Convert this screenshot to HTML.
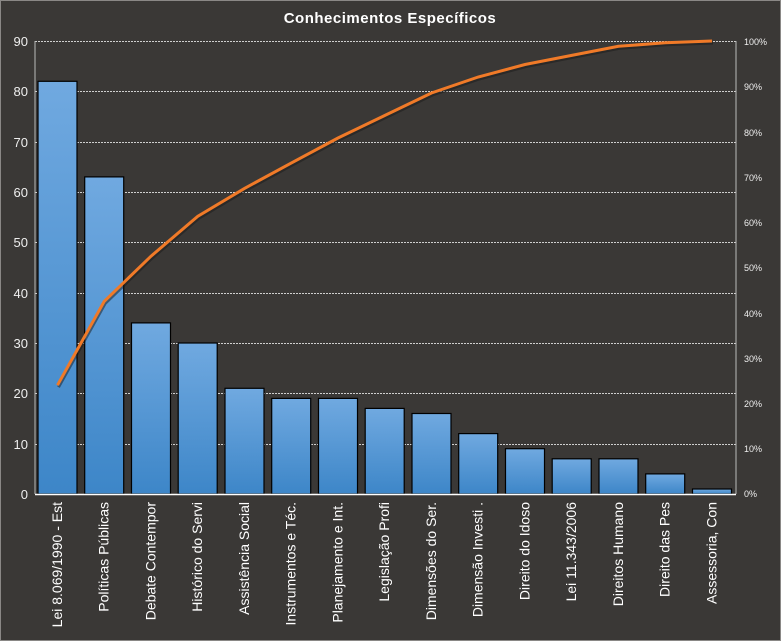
<!DOCTYPE html>
<html><head><meta charset="utf-8"><style>html,body{margin:0;padding:0;background:#3a3836}svg{display:block}</style></head>
<body>
<svg width="781" height="641" viewBox="0 0 781 641" xmlns="http://www.w3.org/2000/svg" font-family="Liberation Sans, DejaVu Sans, sans-serif">
<defs>
<linearGradient id="g" x1="0" y1="0" x2="0" y2="1">
<stop offset="0" stop-color="#70a9e0"/><stop offset="1" stop-color="#3d86c8"/>
</linearGradient>
</defs>
<rect x="0" y="0" width="781" height="641" fill="#3a3836"/>
<rect x="0.5" y="0.5" width="780" height="640" fill="none" stroke="#8a8886"/>
<text x="390" y="23" text-anchor="middle" fill="#fff" font-size="15" font-weight="bold" letter-spacing="0.5">Conhecimentos Específicos</text>
<g stroke="#cfcfcf" stroke-dasharray="2,1" stroke-width="1">
<line x1="35" x2="736" y1="41.5" y2="41.5"/><line x1="35" x2="736" y1="91.5" y2="91.5"/>
<line x1="35" x2="736" y1="142.5" y2="142.5"/><line x1="35" x2="736" y1="192.5" y2="192.5"/>
<line x1="35" x2="736" y1="242.5" y2="242.5"/><line x1="35" x2="736" y1="293.5" y2="293.5"/>
<line x1="35" x2="736" y1="343.5" y2="343.5"/><line x1="35" x2="736" y1="393.5" y2="393.5"/>
<line x1="35" x2="736" y1="444.5" y2="444.5"/>
</g>
<line x1="35" x2="35" y1="41" y2="494" stroke="#bbb"/>
<line x1="736" x2="736" y1="41" y2="494" stroke="#bbb"/>
<g fill="#eee" font-size="13" text-anchor="end">
<text x="28" y="46">90</text><text x="28" y="96">80</text><text x="28" y="147">70</text>
<text x="28" y="197">60</text><text x="28" y="247">50</text><text x="28" y="298">40</text>
<text x="28" y="348">30</text><text x="28" y="398">20</text><text x="28" y="449">10</text>
<text x="28" y="499">0</text>
</g>
<g fill="#eee" font-size="9">
<text x="744" y="45">100%</text><text x="744" y="90">90%</text><text x="744" y="136">80%</text>
<text x="744" y="181">70%</text><text x="744" y="226">60%</text><text x="744" y="271">50%</text>
<text x="744" y="317">40%</text><text x="744" y="362">30%</text><text x="744" y="407">20%</text>
<text x="744" y="452">10%</text><text x="744" y="497">0%</text>
</g>
<g fill="url(#g)" stroke="#000" stroke-width="1.2">
<rect x="38" y="81.3" width="39" height="412.7"/>
<rect x="84.7" y="176.9" width="39" height="317.1"/>
<rect x="131.5" y="322.9" width="39" height="171.1"/>
<rect x="178.2" y="343" width="39" height="151"/>
<rect x="225" y="388.3" width="39" height="105.7"/>
<rect x="271.7" y="398.4" width="39" height="95.6"/>
<rect x="318.5" y="398.4" width="39" height="95.6"/>
<rect x="365.2" y="408.4" width="39" height="85.6"/>
<rect x="412" y="413.5" width="39" height="80.5"/>
<rect x="458.7" y="433.6" width="39" height="60.4"/>
<rect x="505.5" y="448.7" width="39" height="45.3"/>
<rect x="552.2" y="458.8" width="39" height="35.2"/>
<rect x="599" y="458.8" width="39" height="35.2"/>
<rect x="645.7" y="473.9" width="39" height="20.1"/>
<rect x="692.5" y="489" width="39" height="5"/>
</g>
<line x1="35" x2="736" y1="494.5" y2="494.5" stroke="#fff" stroke-width="1.5"/>
<polyline fill="none" stroke="#1a1a1a" stroke-opacity="0.5" stroke-width="3" transform="translate(1,2)" points="57.5,385.2 104.2,301.4 151,256.2 197.7,216.3 244.5,188.4 291.2,163.1 338,138 384.7,115.5 431.5,93 478.2,77 525,64.5 571.7,55.4 618.5,46.3 665.2,42.8 712,41"/>
<polyline fill="none" stroke="#f07a28" stroke-width="3" points="57.5,385.2 104.2,301.4 151,256.2 197.7,216.3 244.5,188.4 291.2,163.1 338,138 384.7,115.5 431.5,93 478.2,77 525,64.5 571.7,55.4 618.5,46.3 665.2,42.8 712,41"/>
<g fill="#fff" font-size="14" text-anchor="end">
<text transform="translate(62,502) rotate(-90)">Lei 8.069/1990 - Est</text>
<text transform="translate(108.7,502) rotate(-90)">Políticas Públicas</text>
<text transform="translate(155.5,502) rotate(-90)">Debate Contempor</text>
<text transform="translate(202.2,502) rotate(-90)">Histórico do Servi</text>
<text transform="translate(249,502) rotate(-90)">Assistência Social</text>
<text transform="translate(295.7,502) rotate(-90)">Instrumentos e Téc.</text>
<text transform="translate(342.5,502) rotate(-90)">Planejamento e Int.</text>
<text transform="translate(389.2,502) rotate(-90)">Legislação Profi</text>
<text transform="translate(436,502) rotate(-90)">Dimensões do Ser.</text>
<text transform="translate(482.7,502) rotate(-90)">Dimensão Investi .</text>
<text transform="translate(529.5,502) rotate(-90)">Direito do Idoso</text>
<text transform="translate(576.2,502) rotate(-90)">Lei 11.343/2006</text>
<text transform="translate(623,502) rotate(-90)">Direitos Humano</text>
<text transform="translate(669.7,502) rotate(-90)">Direito das Pes</text>
<text transform="translate(716.5,502) rotate(-90)">Assessoria, Con</text>
</g>
</svg>
</body></html>
